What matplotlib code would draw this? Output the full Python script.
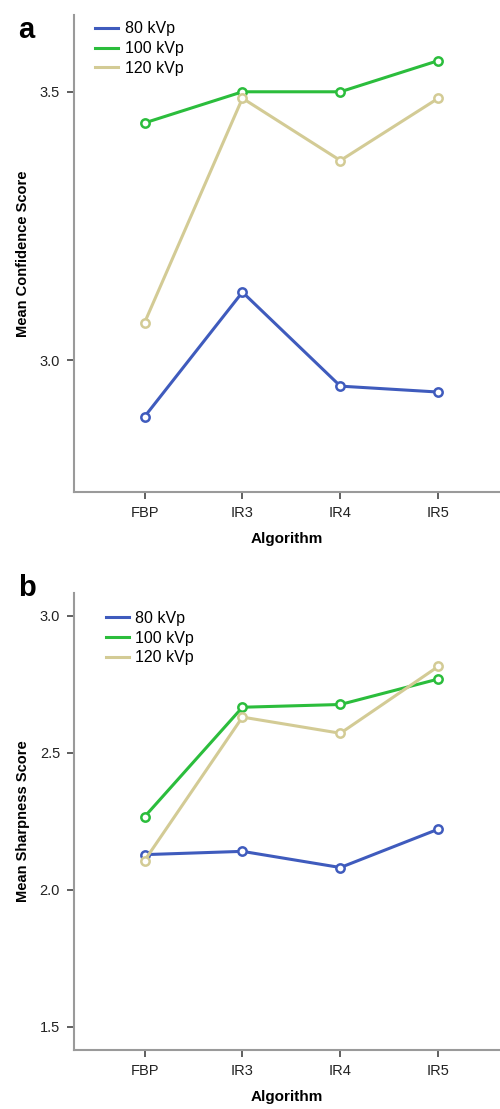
import numpy as np
from matplotlib import pyplot as plt

algorithms = ['FBP', 'IR3', 'IR4', 'IR5']
series_names = ['80 kVp', '100 kVp', '120 kVp']

# panel a: mean confidence score
conf_80 = [2.895, 3.127, 2.952, 2.941]
conf_100 = [3.442, 3.500, 3.500, 3.558]
conf_120 = [3.070, 3.488, 3.372, 3.488]

# panel b: mean sharpness score
sharp_80 = [2.128, 2.140, 2.081, 2.221]
sharp_100 = [2.266, 2.666, 2.676, 2.769]
sharp_120 = [2.106, 2.630, 2.571, 2.815]

colors = ['#3f5bbd', '#2bbd3c', '#d3cb95']
axis_grey = '#9a9a9a'

plt.rcParams['font.family'] = ['Liberation Sans', 'DejaVu Sans']

fig = plt.figure(figsize=(5, 11.09), dpi=100)
ax_a = fig.add_axes([0.148, 0.5564, 0.852, 0.4301])
ax_b = fig.add_axes([0.148, 0.0532, 0.852, 0.4121])


def draw_panel(ax, data, ylim, yticks, ylabel, legend_pos):
	x = np.arange(len(algorithms))
	for vals, name, c in zip(data, series_names, colors):
		ax.plot(x, vals, color=c, linewidth=2.2, marker='o', markersize=6,
				markerfacecolor='white', markeredgecolor=c, markeredgewidth=1.8,
				label=name)
	ax.set_xlim(-0.72, 3.63)
	ax.set_ylim(*ylim)
	ax.set_yticks(yticks)
	ax.set_yticklabels(['%.1f' % t for t in yticks])
	ax.set_xticks(x)
	ax.set_xticklabels(algorithms)
	for s in ['top', 'right']:
		ax.spines[s].set_visible(False)
	for s in ['left', 'bottom']:
		ax.spines[s].set_color(axis_grey)
		ax.spines[s].set_linewidth(1.5)
	ax.tick_params(colors='#222222', labelsize=10.5, length=5, width=1.2, pad=5)
	ax.tick_params(axis='both', color='#444444')
	ax.set_xlabel('Algorithm', fontsize=11, fontweight='bold', labelpad=9)
	ax.set_ylabel(ylabel, fontsize=10.5, fontweight='bold', labelpad=7)
	leg = ax.legend(loc='upper left', bbox_to_anchor=legend_pos, frameon=False,
					fontsize=11.5, handlelength=1.45, handletextpad=0.4,
					labelspacing=0.3, borderaxespad=0)
	for h in leg.legend_handles:
		h.set_marker('')


draw_panel(ax_a, [conf_80, conf_100, conf_120], (2.755, 3.643), [3.0, 3.5],
		   'Mean Confidence Score', (0.035, 1.0))
draw_panel(ax_b, [sharp_80, sharp_100, sharp_120], (1.415, 3.083), [1.5, 2.0, 2.5, 3.0],
		   'Mean Sharpness Score', (0.06, 0.975))

fig.text(0.036, 0.973, 'a', fontsize=21, fontweight='bold', va='center')
fig.text(0.036, 0.470, 'b', fontsize=21, fontweight='bold', va='center')

fig.savefig('out.png', dpi=100)
